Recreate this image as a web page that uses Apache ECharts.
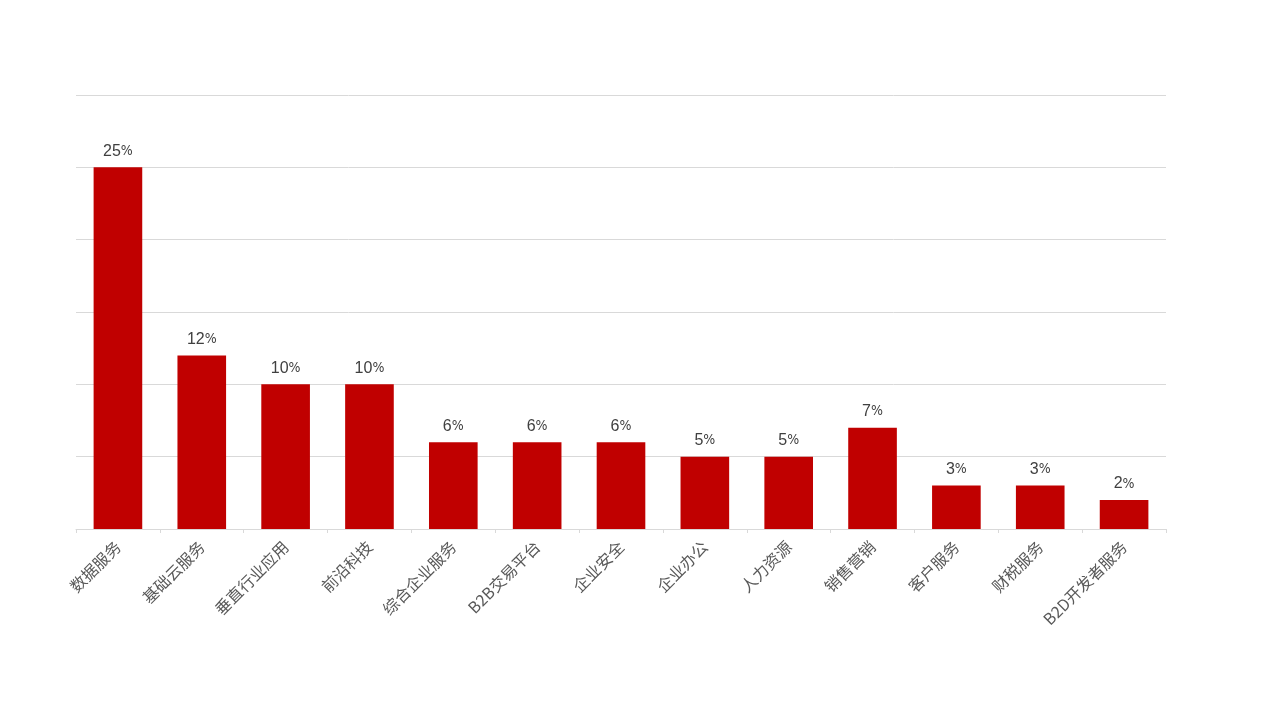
<!DOCTYPE html>
<html><head><meta charset="utf-8">
<script src="https://cdn.jsdelivr.net/npm/echarts@6/dist/echarts.min.js"></script>
<style>html,body{margin:0;padding:0;background:#fff}#c{width:1280px;height:720px}</style>
</head><body><div id="c"></div>
<script>
const categories = ['数据服务','基础云服务','垂直行业应用','前沿科技','综合企业服务','B2B交易平台','企业安全','企业办公','人力资源','销售营销','客户服务','财税服务','B2D开发者服务'];
const shares = [25, 12, 10, 10, 6, 6, 6, 5, 5, 7, 3, 3, 2];
const yTicks = [0, 5, 10, 15, 20, 25, 30];

const chart = echarts.init(document.getElementById('c'));
chart.setOption({
  animation: false,
  grid: {left: 76, right: 114, top: 95, bottom: 191, containLabel: false},
  xAxis: {
    type: 'category', data: categories,
    axisLine: {lineStyle: {color: '#d9d9d9'}},
    axisTick: {show: true, alignWithLabel: false, length: 4, lineStyle: {color: '#d9d9d9'}},
    axisLabel: {rotate: 45, interval: 0, color: '#595959', fontSize: 16, margin: 15,
      fontFamily: 'Noto Sans CJK SC, sans-serif'}
  },
  yAxis: {
    type: 'value', min: yTicks[0], max: yTicks[yTicks.length-1], interval: 5,
    axisLabel: {show: false}, axisLine: {show: false}, axisTick: {show: false},
    splitLine: {lineStyle: {color: '#d9d9d9'}}
  },
  series: [{
    type: 'bar', data: shares, barWidth: '58%',
    itemStyle: {color: '#c00000'},
    label: {show: true, position: 'top', distance: 8, color: '#404040', fontSize: 16,
      fontFamily: 'Liberation Sans, Arial, sans-serif',
      formatter: p => p.value + '{p|%}',
      rich: {p: {fontSize: 14, color: '#404040', fontFamily: 'Liberation Sans Narrow, DejaVu Sans Condensed, sans-serif'}}}
  }]
});
</script></body></html>
